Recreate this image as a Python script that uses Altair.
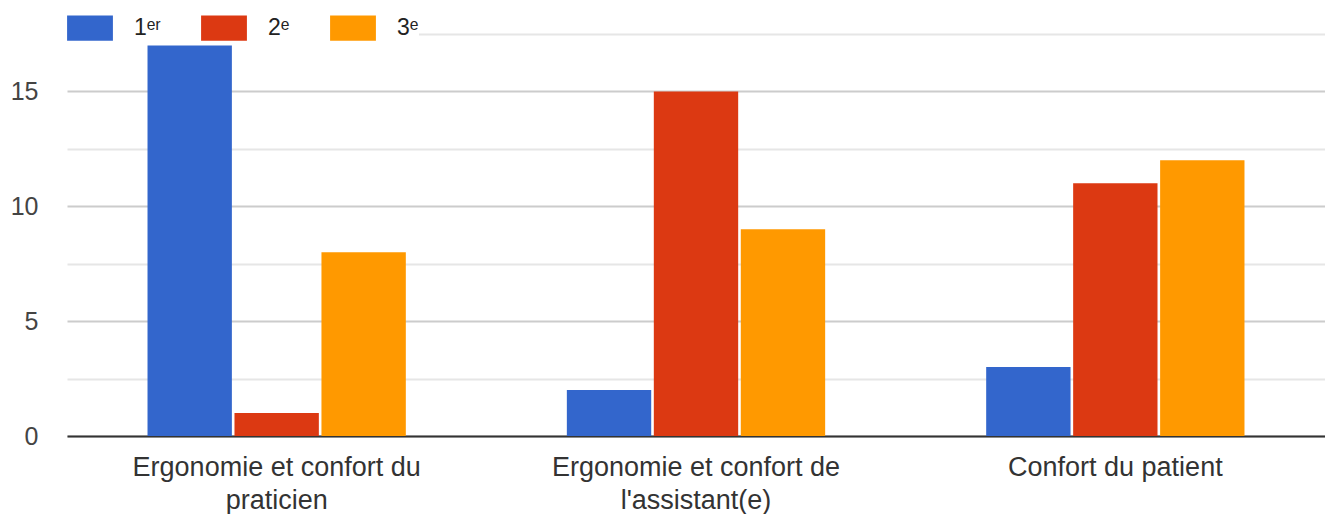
import altair as alt
import pandas as pd

categories = ["Ergonomie et confort du praticien", "Ergonomie et confort de l'assistant(e)", "Confort du patient"]
ranks = ["1ᵉʳ", "2ᵉ", "3ᵉ"]
first = [17, 2, 3]
second = [1, 15, 11]
third = [8, 9, 12]
colors = ["#3366CC", "#DC3912", "#FF9900"]

rows = []
for i, c in enumerate(categories):
    for r, vals in zip(ranks, [first, second, third]):
        rows.append({"cat": c, "rank": r, "value": vals[i]})
df = pd.DataFrame(rows)

label_expr = ("datum.label == 'Ergonomie et confort du praticien' ? ['Ergonomie et confort du', 'praticien'] : "
              "datum.label == \"Ergonomie et confort de l'assistant(e)\" ? ['Ergonomie et confort de', \"l'assistant(e)\"] : datum.label")

chart = alt.Chart(df).mark_bar().encode(
    x=alt.X("cat:N", sort=categories, title=None,
            scale=alt.Scale(paddingInner=0.384, paddingOuter=0.192),
            axis=alt.Axis(labelAngle=0, labelExpr=label_expr, labelFontSize=27, labelColor="#333333",
                          labelFont="Liberation Sans", labelPadding=18, labelLineHeight=33,
                          ticks=False, domainColor="#333333", domainWidth=2, labelLimit=400)),
    xOffset=alt.XOffset("rank:N", sort=ranks, scale=alt.Scale(paddingInner=0.03)),
    y=alt.Y("value:Q", title=None,
            scale=alt.Scale(domain=[0, 17.5], nice=False),
            axis=alt.Axis(values=[0, 2.5, 5, 7.5, 10, 12.5, 15, 17.5],
                          labelExpr="datum.value % 5 == 0 ? datum.label : ''",
                          labelFontSize=25, labelColor="#444444", labelFont="Liberation Sans",
                          labelPadding=29, ticks=False, domain=False,
                          gridColor={"condition": {"test": "datum.value % 5 == 0", "value": "#cccccc"}, "value": "#e6e6e6"},
                          gridWidth=2)),
    color=alt.Color("rank:N", sort=ranks, scale=alt.Scale(domain=ranks, range=colors),
                    legend=alt.Legend(title=None, orient="none", legendX=0, legendY=-29, direction="horizontal",
                                      symbolType="M-1,-0.55H1V0.55H-1Z", symbolSize=2100,
                                      symbolStrokeWidth=0, labelFontSize=23, labelFont="Liberation Sans",
                                      labelColor="#222222", labelOffset=21, columnPadding=40,
                                      fillColor="white")),
).properties(
    width=1258, height=402,
    autosize=alt.AutoSizeParams(type="none"),
    padding={"left": 59, "top": 26, "right": 0, "bottom": 78},
).configure_view(stroke=None)

chart.save("out.html", embed_options={"renderer": "svg", "actions": False})
